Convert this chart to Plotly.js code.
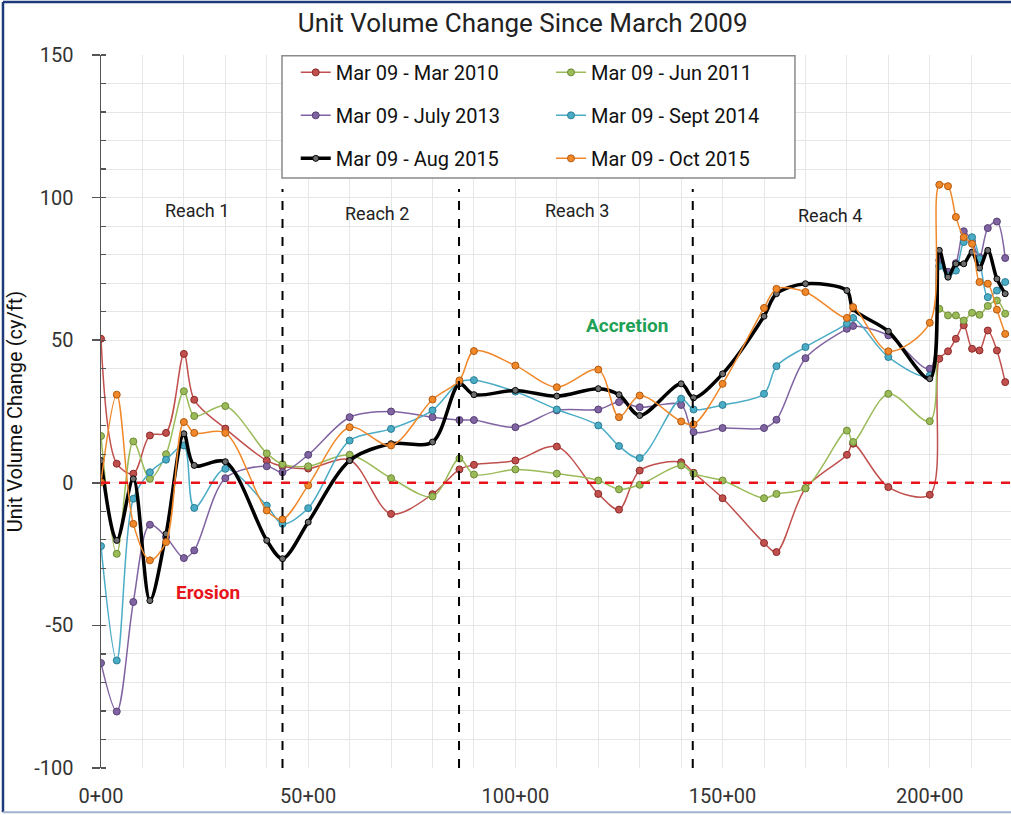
<!DOCTYPE html>
<html>
<head>
<meta charset="utf-8">
<script src="https://cdn.plot.ly/plotly-3.0.1.min.js"></script>
<style>
  html, body { margin: 0; padding: 0; background: #fff; }
  #chart { width: 1011px; height: 815px; }
</style>
</head>
<body>
<div id="chart"></div>
<script>
// Stations (hundreds of feet)
const stations = [0, 3.8, 7.8, 11.8, 15.7, 20, 22.5, 30, 40, 43.8, 50, 60, 70, 80, 86.5, 90, 100, 110, 120, 125, 130, 140, 143, 150, 160, 163, 170, 180, 181.5, 190, 200, 202.3, 204.4, 206.3, 208.2, 210.2, 212, 214, 216.2, 218.2];

const mar2010 = [50.5, 6.7, 3.2, 16.6, 17.5, 45.2, 29.1, 19, 7.8, 5.8, 5, 8, -10.9, -4, 4.7, 6.3, 7.8, 12.7, -3.9, -9.4, 4.3, 7.2, 3.5, -5.4, -21.1, -24.3, -1.9, 9.8, 13.7, -1.5, -4.2, 43.5, 46.1, 50.5, 55.2, 47.0, 46.4, 53.4, 46.4, 35.3];
const jun2011 = [16.4, -24.9, 14.5, 1.4, 10, 32.1, 23.4, 26.9, 10.3, 6.5, 5.8, 9.8, 1.6, -4.8, 8.5, 2.9, 4.7, 3.2, 0.8, -2.3, -0.7, 6.1, 3.2, 0.8, -5.4, -3.9, -1.9, 18.3, 14.3, 31.2, 21.6, 61.0, 58.7, 58.7, 56.9, 59.6, 58.9, 62, 63.9, 59.3];
const jul2013 = [-63.2, -80.2, -41.8, -14.7, -19, -26.4, -23.7, 1.6, 5.8, 3.7, 9.8, 23.0, 25.0, 23.0, 22.0, 22.0, 19.5, 25.4, 25.7, 28.3, 26.5, 27.3, 17.8, 19.2, 19.2, 22.1, 43.7, 54.0, 55, 51.7, 40.0, 78, 74, 77, 88.2, 84.6, 79.1, 89.3, 91.6, 78.8];
const sep2014 = [-22.2, -62.3, -5.6, 3.7, 8.1, 13.1, -8.8, 4.9, -8.0, -14.4, -8.9, 14.8, 18.9, 25.4, 35.3, 36.0, 32, 25.7, 20.1, 12.9, 8.7, 29.5, 25.7, 27.3, 31.2, 40.9, 47.6, 55.8, 57.8, 44.1, 37.6, 76, 72.7, 74.4, 84.4, 86.1, 78.5, 65.1, 67.4, 70.4];
const aug2015 = [7.8, -20.2, 1.4, -41.3, -17.9, 17.2, 6.1, 7.4, -20.2, -26.6, -13.8, 7.8, 13.7, 14.3, 34.7, 30.9, 32.4, 30.4, 33.0, 30.9, 23.6, 34.7, 29.8, 38.2, 58.4, 66.3, 69.8, 67.4, 61, 53.1, 36.5, 81.5, 72.1, 76.8, 76.8, 80.9, 75.3, 81.5, 71.5, 66.3];
const oct2015 = [0.2, 30.9, -14.4, -27.2, -20.8, 21.3, 17.5, 17.5, -9.7, -12.8, -0.9, 19.5, 13.1, 29.2, 35.9, 46.2, 41.1, 33.5, 39.7, 23.0, 30.6, 21.5, 20.5, 34.7, 61.3, 68.0, 66.9, 57.8, 61.6, 46.1, 56.1, 104.5, 104.0, 93.2, 86.1, 83.8, 70.4, 69.8, 60.7, 52.2];

const seriesNames = ["Mar 09 - Mar 2010", "Mar 09 - Jun 2011", "Mar 09 - July 2013", "Mar 09 - Sept 2014", "Mar 09 - Aug 2015", "Mar 09 - Oct 2015"];

const xTickVals = [0, 50, 100, 150, 200];
const xTickText = ["0+00", "50+00", "100+00", "150+00", "200+00"];
const yTickVals = [-100, -50, 0, 50, 100, 150];
const yTickText = ["-100", "-50", "0", "50", "100", "150"];

const reachBounds = [43.8, 86.4, 142.8];
const reachLabels = ["Reach 1", "Reach 2", "Reach 3", "Reach 4"];
const reachLabelX = [23.2, 66.6, 114.8, 175.8];
const reachLabelY = [95.4, 94.3, 95.4, 93.6];

const FONT = "Roboto, Open Sans, sans-serif";

function mk(y, name, color, lineColor, width, msize, mline, legend, group) {
  return {
    x: stations, y: y, name: name, type: 'scatter', mode: 'lines+markers',
    line: { color: color, width: width, shape: 'spline', smoothing: 0.9 },
    marker: { color: lineColor, size: msize, line: { color: mline, width: 1 } },
    legend: legend, legendgroup: group
  };
}

const traces = [
  mk(mar2010, seriesNames[0], '#c0504d', '#c0504d', 1.5, 7, '#8c2a28', 'legend', 'a'),
  mk(jun2011, seriesNames[1], '#9bbb59', '#9bbb59', 1.5, 7, '#6d8a35', 'legend2', 'b'),
  mk(jul2013, seriesNames[2], '#8064a2', '#8064a2', 1.5, 7, '#563f75', 'legend', 'c'),
  mk(sep2014, seriesNames[3], '#4bacc6', '#4bacc6', 1.5, 7, '#2a7d95', 'legend2', 'd'),
  mk(aug2015, seriesNames[4], '#000000', '#6e6e6e', 3.5, 6, '#000000', 'legend', 'e'),
  mk(oct2015, seriesNames[5], '#f0882a', '#f0882a', 1.5, 7, '#b35a10', 'legend2', 'f')
];

const shapes = [];
reachBounds.forEach(function (b) {
  shapes.push({ type: 'line', xref: 'x', yref: 'y', x0: b, x1: b, y0: -100, y1: 103,
    line: { color: '#000', width: 2, dash: 'dash' }, layer: 'above' });
});
shapes.push({ type: 'line', xref: 'paper', yref: 'y', x0: 0, x1: 1, y0: 0, y1: 0,
  line: { color: '#e8141b', width: 2.5, dash: 'dash' }, layer: 'above' });
// legend box
shapes.push({ type: 'rect', xref: 'paper', yref: 'paper', x0: 0.1989, x1: 0.7626, y0: 0.8275, y1: 0.999,
  fillcolor: '#ffffff', line: { color: '#8a8a8a', width: 1.5 }, layer: 'above' });
// outer frame
shapes.push({ type: 'line', xref: 'paper', yref: 'paper', x0: -0.1077, x1: -0.1077, y0: -0.062, y1: 1.0743,
  line: { color: '#1f3a7a', width: 2.5 }, layer: 'above' });
shapes.push({ type: 'line', xref: 'paper', yref: 'paper', x0: -0.1077, x1: 1.01, y0: 1.0743, y1: 1.0743,
  line: { color: '#1f3a7a', width: 2.5 }, layer: 'above' });
shapes.push({ type: 'line', xref: 'paper', yref: 'paper', x0: -0.1077, x1: 1.01, y0: -0.062, y1: -0.062,
  line: { color: '#9fb3cf', width: 2 }, layer: 'above' });

const annotations = reachLabels.map(function (t, i) {
  return { x: reachLabelX[i], y: reachLabelY[i], xref: 'x', yref: 'y', text: t, showarrow: false,
    font: { family: FONT, size: 18, color: '#222' } };
});
annotations.push({ x: 126.9, y: 55, xref: 'x', yref: 'y', text: '<b>Accretion</b>', showarrow: false,
  font: { family: FONT, size: 19, color: '#1ea055' } });
annotations.push({ x: 25.8, y: -38.6, xref: 'x', yref: 'y', text: '<b>Erosion</b>', showarrow: false,
  font: { family: FONT, size: 19, color: '#e8141b' } });

const legendCommon = {
  orientation: 'v', bgcolor: 'rgba(0,0,0,0)', borderwidth: 0,
  font: { family: FONT, size: 20, color: '#111' }, tracegroupgap: 14,
  yanchor: 'top', xanchor: 'left', itemwidth: 30
};

const layout = {
  width: 1011, height: 815,
  margin: { l: 101, r: 0, t: 55, b: 47 },
  paper_bgcolor: '#ffffff', plot_bgcolor: '#ffffff',
  title: { text: 'Unit Volume Change Since March 2009', x: 0.517, xanchor: 'center', y: 0.972, yanchor: 'middle',
    font: { family: FONT, size: 26, color: '#222' } },
  xaxis: {
    range: [0, 219.6], tickvals: xTickVals, ticktext: xTickText,
    showgrid: true, gridcolor: '#e6e6e6', gridwidth: 1, zeroline: false, showline: false, ticks: '',
    minor: { dtick: 10, tick0: 0, showgrid: true, gridcolor: '#e6e6e6', gridwidth: 1 },
    tickfont: { family: FONT, size: 20, color: '#333' }, ticklabelstandoff: 14
  },
  yaxis: {
    range: [-100, 150], tickvals: yTickVals, ticktext: yTickText, automargin: true,
    showgrid: true, gridcolor: '#e6e6e6', gridwidth: 1, zeroline: false,
    showline: true, linecolor: '#555', linewidth: 1.5,
    ticks: 'outside', ticklen: 8, tickcolor: '#555', tickwidth: 1.5,
    minor: { dtick: 10, tick0: 0, showgrid: true, gridcolor: '#e6e6e6', ticks: 'inside', ticklen: 5, tickcolor: '#555', tickwidth: 1.2 },
    tickfont: { family: FONT, size: 20, color: '#333' }, ticklabelstandoff: 14,
    title: { text: 'Unit Volume Change (cy/ft)', font: { family: FONT, size: 20, color: '#111' }, standoff: 6 }
  },
  showlegend: true,
  legend: Object.assign({}, legendCommon, { x: 0.214, y: 1.003 }),
  legend2: Object.assign({}, legendCommon, { x: 0.4945, y: 1.003 }),
  shapes: shapes,
  annotations: annotations
};

Plotly.newPlot('chart', traces, layout, { displayModeBar: false, staticPlot: true });
</script>
</body>
</html>
